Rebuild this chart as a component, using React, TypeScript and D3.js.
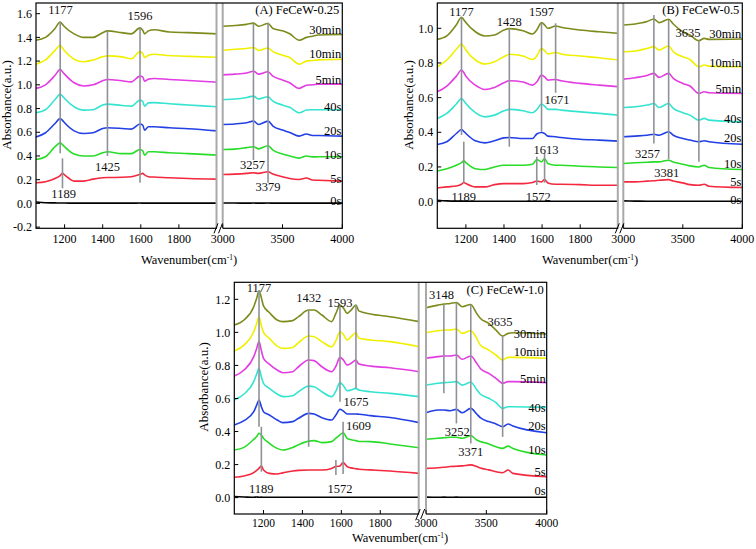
import React from 'react';
import * as d3 from 'd3';

const SERIES = ['30min', '10min', '5min', '40s', '20s', '10s', '5s', '0s'];
const COLORS = ['#7d8a1c', '#f0f000', '#e23ce2', '#34e4d0', '#2240e4', '#28dc28', '#f4283e', '#000000'];

const X_TICKS_L = [1200, 1400, 1600, 1800];
const X_TICKS_R = [3000, 3500, 4000];

// ---------- Panel A ----------
const A_XL = [1050, 1100, 1150, 1177, 1189, 1200, 1250, 1300, 1350, 1400, 1425, 1500, 1550, 1596, 1610, 1620, 1640, 1670, 1750, 1850, 2000];
const A_XR = [3000, 3100, 3200, 3257, 3300, 3379, 3420, 3500, 3560, 3640, 3700, 3750, 3800, 4000];
const A_YL = [
  [1.376, 1.40, 1.475, 1.53, 1.51, 1.49, 1.43, 1.40, 1.40, 1.44, 1.455, 1.44, 1.43, 1.48, 1.46, 1.43, 1.455, 1.465, 1.445, 1.44, 1.43],
  [1.174, 1.21, 1.29, 1.334, 1.31, 1.287, 1.216, 1.194, 1.21, 1.236, 1.244, 1.236, 1.22, 1.28, 1.264, 1.23, 1.25, 1.258, 1.247, 1.24, 1.233],
  [0.97, 1.0, 1.08, 1.13, 1.11, 1.09, 1.017, 0.99, 1.0, 1.034, 1.045, 1.034, 1.025, 1.073, 1.067, 1.03, 1.048, 1.053, 1.045, 1.037, 1.022],
  [0.764, 0.79, 0.876, 0.92, 0.905, 0.885, 0.815, 0.787, 0.79, 0.83, 0.837, 0.826, 0.82, 0.87, 0.86, 0.82, 0.848, 0.85, 0.84, 0.83, 0.815],
  [0.56, 0.596, 0.674, 0.716, 0.70, 0.68, 0.612, 0.59, 0.596, 0.632, 0.638, 0.632, 0.626, 0.669, 0.66, 0.618, 0.646, 0.646, 0.638, 0.63, 0.612],
  [0.37, 0.393, 0.478, 0.51, 0.495, 0.478, 0.416, 0.40, 0.40, 0.427, 0.435, 0.42, 0.42, 0.455, 0.444, 0.407, 0.435, 0.435, 0.427, 0.42, 0.407],
  [0.174, 0.183, 0.21, 0.235, 0.253, 0.24, 0.188, 0.188, 0.205, 0.216, 0.218, 0.22, 0.225, 0.245, 0.253, 0.24, 0.225, 0.222, 0.216, 0.21, 0.205],
  [0.012, 0.005, 0.004, 0.003, 0.003, 0.003, 0.002, 0.002, 0.002, 0.002, 0.002, 0.002, 0.002, 0.003, 0.002, 0.002, 0.002, 0.002, 0.002, 0.002, 0.002],
];
const A_YR = [
  [1.494, 1.50, 1.51, 1.52, 1.494, 1.517, 1.475, 1.455, 1.43, 1.376, 1.40, 1.41, 1.42, 1.424],
  [1.29, 1.30, 1.306, 1.315, 1.29, 1.31, 1.28, 1.25, 1.23, 1.174, 1.20, 1.205, 1.21, 1.216],
  [1.084, 1.09, 1.10, 1.115, 1.09, 1.11, 1.073, 1.04, 1.017, 0.97, 0.997, 1.0, 1.006, 1.006],
  [0.876, 0.88, 0.893, 0.905, 0.88, 0.9, 0.862, 0.83, 0.81, 0.764, 0.787, 0.79, 0.79, 0.79],
  [0.666, 0.67, 0.68, 0.694, 0.666, 0.694, 0.652, 0.618, 0.598, 0.567, 0.585, 0.572, 0.573, 0.567],
  [0.455, 0.458, 0.47, 0.478, 0.46, 0.486, 0.45, 0.416, 0.40, 0.382, 0.40, 0.392, 0.393, 0.393],
  [0.244, 0.247, 0.253, 0.258, 0.253, 0.267, 0.247, 0.225, 0.21, 0.202, 0.214, 0.197, 0.195, 0.188],
  [0.003, 0.003, 0.002, 0.003, 0.002, 0.003, 0.002, 0.002, 0.002, 0.002, 0.002, 0.002, 0.002, 0.002],
];
const A_YTICKS = [-0.2, 0, 0.2, 0.4, 0.6, 0.8, 1.0, 1.2, 1.4, 1.6];
const A_LABEL_Y = [1.468, 1.265, 1.046, 0.82, 0.612, 0.415, 0.21, 0.026];
const A_ANNS = [
  { seg: 'L', w: 1177, y1: 1.532, y2: 0.422, label: '1177', lw: 1179, ly: 1.63 },
  { seg: 'L', w: 1189, y1: 0.38, y2: 0.127, label: '1189', lw: 1195, ly: 0.085 },
  { seg: 'L', w: 1425, y1: 1.456, y2: 0.4, label: '1425', lw: 1425, ly: 0.31 },
  { seg: 'L', w: 1596, y1: 1.485, y2: 0.175, label: '1596', lw: 1596, ly: 1.586 },
  { seg: 'R', w: 3257, y1: 1.519, y2: 0.366, label: '3257', lw: 3250, ly: 0.33 },
  { seg: 'R', w: 3379, y1: 1.524, y2: 0.175, label: '3379', lw: 3379, ly: 0.141 },
];

// ---------- Panel B ----------
const B_XL = [1050, 1100, 1150, 1177, 1189, 1200, 1250, 1300, 1350, 1400, 1428, 1500, 1550, 1572, 1597, 1613, 1630, 1671, 1700, 1800, 1900, 2000];
const B_XR = [3000, 3100, 3200, 3257, 3300, 3381, 3420, 3500, 3560, 3635, 3680, 3720, 4000];
const B_YL = [
  [0.936, 0.956, 1.02, 1.064, 1.05, 1.033, 0.98, 0.956, 0.961, 0.99, 0.998, 0.986, 0.967, 0.99, 1.033, 1.02, 1.0, 1.013, 1.006, 0.99, 0.98, 0.971],
  [0.778, 0.817, 0.879, 0.909, 0.895, 0.875, 0.817, 0.794, 0.807, 0.836, 0.85, 0.84, 0.82, 0.84, 0.884, 0.871, 0.852, 0.86, 0.852, 0.84, 0.83, 0.817],
  [0.634, 0.667, 0.724, 0.759, 0.745, 0.724, 0.672, 0.647, 0.659, 0.686, 0.697, 0.69, 0.672, 0.69, 0.73, 0.72, 0.701, 0.705, 0.697, 0.682, 0.672, 0.663],
  [0.48, 0.509, 0.563, 0.595, 0.582, 0.566, 0.513, 0.489, 0.499, 0.524, 0.532, 0.524, 0.513, 0.53, 0.563, 0.551, 0.532, 0.532, 0.528, 0.518, 0.509, 0.499],
  [0.33, 0.345, 0.393, 0.416, 0.405, 0.393, 0.351, 0.339, 0.351, 0.368, 0.37, 0.364, 0.364, 0.39, 0.399, 0.393, 0.378, 0.374, 0.37, 0.36, 0.355, 0.349],
  [0.177, 0.19, 0.21, 0.225, 0.235, 0.225, 0.19, 0.185, 0.2, 0.21, 0.21, 0.21, 0.216, 0.243, 0.229, 0.249, 0.22, 0.21, 0.21, 0.204, 0.2, 0.197],
  [0.079, 0.085, 0.09, 0.1, 0.11, 0.104, 0.085, 0.085, 0.098, 0.104, 0.104, 0.104, 0.11, 0.119, 0.114, 0.127, 0.108, 0.1, 0.1, 0.098, 0.094, 0.094],
  [0.008, 0.004, 0.003, 0.003, 0.003, 0.003, 0.002, 0.002, 0.002, 0.002, 0.002, 0.002, 0.002, 0.002, 0.002, 0.002, 0.002, 0.002, 0.002, 0.002, 0.002, 0.002],
];
const B_YR = [
  [1.019, 1.025, 1.039, 1.054, 1.033, 1.052, 1.025, 0.98, 0.961, 0.929, 0.942, 0.936, 0.938],
  [0.865, 0.869, 0.884, 0.894, 0.875, 0.898, 0.865, 0.836, 0.82, 0.778, 0.788, 0.782, 0.778],
  [0.707, 0.715, 0.728, 0.74, 0.717, 0.74, 0.711, 0.682, 0.667, 0.624, 0.634, 0.628, 0.624],
  [0.543, 0.547, 0.557, 0.566, 0.543, 0.566, 0.538, 0.513, 0.499, 0.47, 0.48, 0.47, 0.46],
  [0.374, 0.378, 0.383, 0.389, 0.383, 0.403, 0.383, 0.364, 0.355, 0.345, 0.351, 0.345, 0.331],
  [0.22, 0.224, 0.227, 0.229, 0.229, 0.239, 0.229, 0.216, 0.206, 0.2, 0.21, 0.197, 0.185],
  [0.114, 0.114, 0.118, 0.12, 0.123, 0.127, 0.119, 0.108, 0.098, 0.094, 0.1, 0.089, 0.081],
  [0.004, 0.003, 0.002, 0.002, 0.002, 0.002, 0.002, 0.002, 0.002, 0.002, 0.002, 0.002, 0.002],
];
const B_YTICKS = [0, 0.2, 0.4, 0.6, 0.8, 1.0];
const B_LABEL_Y = [0.971, 0.804, 0.653, 0.48, 0.37, 0.22, 0.113, 0.012];
const B_ANNS = [
  { seg: 'L', w: 1177, y1: 1.063, y2: 0.384, label: '1177', lw: 1177, ly: 1.096 },
  { seg: 'L', w: 1189, y1: 0.346, y2: 0.109, label: '1189', lw: 1189, ly: 0.028 },
  { seg: 'L', w: 1428, y1: 1.0, y2: 0.317, label: '1428', lw: 1428, ly: 1.038 },
  { seg: 'L', w: 1597, y1: 1.032, y2: 0.403, label: '1597', lw: 1597, ly: 1.096 },
  { seg: 'L', w: 1671, y1: 1.029, y2: 0.628, label: '1671', lw: 1678, ly: 0.59 },
  { seg: 'L', w: 1572, y1: 0.259, y2: 0.096, label: '1572', lw: 1580, ly: 0.028 },
  { seg: 'L', w: 1613, y1: 0.279, y2: 0.109, label: '1613', lw: 1620, ly: 0.298 },
  { seg: 'R', w: 3257, y1: 1.077, y2: 0.336, label: '3257', lw: 3204, ly: 0.275 },
  { seg: 'R', w: 3381, y1: 1.048, y2: 0.244, label: '3381', lw: 3365, ly: 0.167 },
  { seg: 'R', w: 3635, y1: 0.928, y2: 0.23, label: '3635', lw: 3543, ly: 0.977 },
];

// ---------- Panel C ----------
const C_XL = [1050, 1100, 1150, 1165, 1177, 1189, 1200, 1230, 1270, 1300, 1350, 1380, 1432, 1460, 1500, 1550, 1572, 1593, 1609, 1630, 1650, 1675, 1690, 1750, 1850, 2000];
const C_XR = [3000, 3100, 3148, 3200, 3252, 3300, 3371, 3420, 3450, 3520, 3580, 3635, 3680, 3720, 4000];
const C_YL = [
  [1.044, 1.075, 1.155, 1.206, 1.252, 1.21, 1.16, 1.12, 1.075, 1.065, 1.071, 1.095, 1.135, 1.135, 1.105, 1.065, 1.115, 1.165, 1.15, 1.115, 1.135, 1.165, 1.13, 1.111, 1.095, 1.065],
  [0.887, 0.923, 1.004, 1.054, 1.095, 1.04, 1.0, 0.964, 0.917, 0.903, 0.909, 0.938, 0.978, 0.974, 0.944, 0.913, 0.95, 1.004, 0.99, 0.954, 0.974, 0.998, 0.964, 0.954, 0.944, 0.913],
  [0.736, 0.772, 0.853, 0.903, 0.944, 0.89, 0.843, 0.808, 0.772, 0.756, 0.762, 0.792, 0.833, 0.829, 0.792, 0.762, 0.795, 0.849, 0.835, 0.802, 0.813, 0.833, 0.808, 0.796, 0.786, 0.762],
  [0.591, 0.627, 0.702, 0.748, 0.782, 0.73, 0.692, 0.661, 0.627, 0.611, 0.617, 0.641, 0.675, 0.671, 0.641, 0.611, 0.645, 0.696, 0.68, 0.647, 0.651, 0.661, 0.651, 0.641, 0.631, 0.611],
  [0.44, 0.466, 0.52, 0.56, 0.591, 0.55, 0.52, 0.5, 0.47, 0.454, 0.46, 0.48, 0.51, 0.506, 0.484, 0.47, 0.5, 0.535, 0.525, 0.506, 0.506, 0.506, 0.505, 0.496, 0.485, 0.454],
  [0.288, 0.304, 0.353, 0.37, 0.389, 0.379, 0.36, 0.329, 0.298, 0.288, 0.304, 0.32, 0.342, 0.345, 0.333, 0.339, 0.36, 0.38, 0.393, 0.359, 0.35, 0.345, 0.34, 0.339, 0.325, 0.302],
  [0.123, 0.131, 0.151, 0.165, 0.177, 0.192, 0.167, 0.147, 0.143, 0.15, 0.161, 0.165, 0.167, 0.167, 0.167, 0.177, 0.188, 0.192, 0.212, 0.188, 0.18, 0.175, 0.172, 0.168, 0.161, 0.147],
  [0.006, 0.004, 0.002, 0.004, 0.002, 0.003, 0.002, 0.002, 0.002, 0.002, 0.002, 0.002, 0.002, 0.002, 0.002, 0.002, 0.002, 0.002, 0.002, 0.002, 0.002, 0.002, 0.002, 0.002, 0.002, 0.002],
];
const C_YR = [
  [1.149, 1.165, 1.171, 1.175, 1.181, 1.155, 1.169, 1.115, 1.085, 1.054, 1.014, 0.978, 0.994, 0.998, 0.99],
  [0.998, 1.01, 1.014, 1.014, 1.02, 0.994, 1.01, 0.964, 0.923, 0.893, 0.863, 0.833, 0.849, 0.849, 0.843],
  [0.843, 0.853, 0.857, 0.857, 0.863, 0.837, 0.857, 0.813, 0.782, 0.752, 0.722, 0.692, 0.702, 0.702, 0.696],
  [0.681, 0.692, 0.696, 0.698, 0.702, 0.681, 0.698, 0.655, 0.627, 0.601, 0.575, 0.54, 0.55, 0.55, 0.546],
  [0.514, 0.53, 0.53, 0.526, 0.534, 0.514, 0.54, 0.506, 0.484, 0.46, 0.446, 0.429, 0.446, 0.433, 0.393],
  [0.353, 0.359, 0.362, 0.365, 0.365, 0.359, 0.375, 0.349, 0.34, 0.325, 0.308, 0.298, 0.312, 0.298, 0.258],
  [0.177, 0.181, 0.184, 0.188, 0.19, 0.192, 0.198, 0.188, 0.18, 0.168, 0.157, 0.151, 0.167, 0.147, 0.127],
  [0.003, 0.002, 0.003, 0.002, 0.003, 0.002, 0.002, 0.002, 0.002, 0.002, 0.002, 0.002, 0.002, 0.002, 0.002],
];
const C_YTICKS = [0, 0.2, 0.4, 0.6, 0.8, 1.0, 1.2];
const C_LABEL_Y = [0.995, 0.883, 0.722, 0.547, 0.436, 0.289, 0.157, 0.042];
const C_ANNS = [
  { seg: 'L', w: 1177, y1: 1.252, y2: 0.429, label: '1177', lw: 1177, ly: 1.27 },
  { seg: 'L', w: 1189, y1: 0.429, y2: 0.157, label: '1189', lw: 1189, ly: 0.056 },
  { seg: 'L', w: 1432, y1: 1.135, y2: 0.308, label: '1432', lw: 1432, ly: 1.212 },
  { seg: 'L', w: 1593, y1: 1.165, y2: 0.58, label: '1593', lw: 1593, ly: 1.181 },
  { seg: 'L', w: 1675, y1: 1.165, y2: 0.661, label: '1675', lw: 1675, ly: 0.58 },
  { seg: 'L', w: 1609, y1: 0.459, y2: 0.143, label: '1609', lw: 1688, ly: 0.433 },
  { seg: 'L', w: 1572, y1: 0.227, y2: 0.137, label: '1572', lw: 1593, ly: 0.056 },
  { seg: 'R', w: 3148, y1: 1.171, y2: 0.631, label: '3148', lw: 3129, ly: 1.226 },
  { seg: 'R', w: 3252, y1: 1.181, y2: 0.449, label: '3252', lw: 3258, ly: 0.399 },
  { seg: 'R', w: 3371, y1: 1.169, y2: 0.328, label: '3371', lw: 3371, ly: 0.278 },
  { seg: 'R', w: 3635, y1: 0.978, y2: 0.368, label: '3635', lw: 3613, ly: 1.064 },
];

const FONT = "'Liberation Serif', 'Times New Roman', serif";

type Ann = { seg: string; w: number; y1: number; y2: number; label: string; lw: number; ly: number };

interface PanelProps {
  left: number; splitL: number; splitR: number; right: number; top: number; bottom: number;
  yDomain: [number, number]; yTicks: number[];
  xl: number[]; xr: number[]; yl: number[][]; yr: number[][];
  labelY: number[]; anns: Ann[]; title: string;
  yTitleX: number; yTitleY: number; xTitleX: number; xTitleY: number; tickLabelDy: number; tickFont: number;
}

function Panel(p: PanelProps) {
  const xL = d3.scaleLinear().domain([1050, 2000]).range([p.left, p.splitL]);
  const xR = d3.scaleLinear().domain([3000, 4000]).range([p.splitR, p.right]);
  const y = d3.scaleLinear().domain(p.yDomain).range([p.bottom, p.top]);
  const lineL = d3.line<number>().x((_, i) => xL(p.xl[i])).y((d) => y(d)).curve(d3.curveMonotoneX);
  const lineR = d3.line<number>().x((_, i) => xR(p.xr[i])).y((d) => y(d)).curve(d3.curveMonotoneX);
  const order = [7, 6, 5, 4, 3, 2, 1, 0];
  const bx = p.splitL;
  return (
    <g fontFamily={FONT}>
      {order.map((k) => (
        <g key={SERIES[k]}>
          <path d={lineL(p.yl[k]) || ''} fill="none" stroke={COLORS[k]} strokeWidth={1.6} strokeLinejoin="round" />
          <path d={lineR(p.yr[k]) || ''} fill="none" stroke={COLORS[k]} strokeWidth={1.6} strokeLinejoin="round" />
        </g>
      ))}
      {p.anns.map((a, i) => {
        const sx = a.seg === 'L' ? xL : xR;
        return (
          <g key={'a' + i}>
            <line x1={sx(a.w)} x2={sx(a.w)} y1={y(a.y1)} y2={y(a.y2)} stroke="#8e9298" strokeWidth={1.6} />
            <text x={sx(a.lw)} y={y(a.ly)} dy="0.35em" textAnchor="middle" fontSize={12.5} fill="#111">{a.label}</text>
          </g>
        );
      })}
      <line x1={bx - 0.5} x2={bx - 0.5} y1={p.top} y2={p.bottom} stroke="#a9a9a9" strokeWidth={2} />
      <line x1={p.splitR} x2={p.splitR} y1={p.top} y2={p.bottom} stroke="#a9a9a9" strokeWidth={2} />
      <rect x={p.left} y={p.top} width={p.right - p.left} height={p.bottom - p.top} fill="none" stroke="#000" strokeWidth={1.2} />
      <rect x={bx} y={p.bottom - 1} width={p.splitR - bx} height={2} fill="#fff" />
      <line x1={bx - 3} y1={p.bottom + 5} x2={bx + 1} y2={p.bottom - 5} stroke="#000" strokeWidth={1} />
      <line x1={bx + 1.5} y1={p.bottom + 5} x2={bx + 5.5} y2={p.bottom - 5} stroke="#000" strokeWidth={1} />
      {p.yTicks.map((t) => (
        <g key={'y' + t}>
          <line x1={p.left} x2={p.left + 4} y1={y(t)} y2={y(t)} stroke="#000" strokeWidth={1} />
          <text x={p.left - 4} y={y(t)} dy="0.35em" textAnchor="end" fontSize={12}>{t.toFixed(1)}</text>
        </g>
      ))}
      {X_TICKS_L.map((t) => (
        <g key={'xl' + t}>
          <line x1={xL(t)} x2={xL(t)} y1={p.bottom} y2={p.bottom - 4} stroke="#000" strokeWidth={1} />
          <text x={xL(t)} y={p.bottom + p.tickLabelDy} dy="0.35em" textAnchor="middle" fontSize={p.tickFont}>{t}</text>
        </g>
      ))}
      {X_TICKS_R.map((t) => (
        <g key={'xr' + t}>
          <line x1={xR(t)} x2={xR(t)} y1={p.bottom} y2={p.bottom - 4} stroke="#000" strokeWidth={1} />
          <text x={xR(t)} y={p.bottom + p.tickLabelDy} dy="0.35em" textAnchor="middle" fontSize={p.tickFont}>{t}</text>
        </g>
      ))}
      {SERIES.map((s, k) => (
        <text key={'l' + s} x={p.right - 1} y={y(p.labelY[k])} dy="0.35em" textAnchor="end" fontSize={12.5}>{s}</text>
      ))}
      <text x={p.right - 3} y={p.top + 7} dy="0.35em" textAnchor="end" fontSize={12.5}>{p.title}</text>
      <text transform={`translate(${p.yTitleX},${p.yTitleY}) rotate(-90)`} textAnchor="middle" dy="0.35em" fontSize={13}>Absorbance(a.u.)</text>
      <text x={p.xTitleX} y={p.xTitleY} dy="0.35em" textAnchor="middle" fontSize={12.5}>
        Wavenumber(cm<tspan dy="-4" fontSize={7.5}>-1</tspan><tspan dy="4">)</tspan>
      </text>
    </g>
  );
}

export default function App() {
  return (
    <svg width={756} height={549} style={{ position: 'absolute', left: 0, top: 0, background: '#fff' }}>
      <rect width={756} height={549} fill="#fff" />
      <Panel left={36} splitL={217} splitR={222.7} right={342.3} top={3} bottom={228.3}
        yDomain={[-0.21, 1.69]} yTicks={A_YTICKS} xl={A_XL} xr={A_XR} yl={A_YL} yr={A_YR}
        labelY={A_LABEL_Y} anns={A_ANNS} title="(A) FeCeW-0.25"
        yTitleX={6} yTitleY={105} xTitleX={189} xTitleY={260} tickLabelDy={10} tickFont={12} />
      <Panel left={437.3} splitL={618.3} splitR={623.3} right={742.3} top={3} bottom={228.3}
        yDomain={[-0.154, 1.146]} yTicks={B_YTICKS} xl={B_XL} xr={B_XR} yl={B_YL} yr={B_YR}
        labelY={B_LABEL_Y} anns={B_ANNS} title="(B) FeCeW-0.5"
        yTitleX={408} yTitleY={105} xTitleX={590} xTitleY={260} tickLabelDy={10} tickFont={12} />
      <Panel left={234.3} splitL={419.2} splitR={426} right={546.7} top={282.3} bottom={514}
        yDomain={[-0.099, 1.303]} yTicks={C_YTICKS} xl={C_XL} xr={C_XR} yl={C_YL} yr={C_YR}
        labelY={C_LABEL_Y} anns={C_ANNS} title="(C) FeCeW-1.0"
        yTitleX={203} yTitleY={387} xTitleX={400} xTitleY={538} tickLabelDy={8.5} tickFont={11.5} />
    </svg>
  );
}
